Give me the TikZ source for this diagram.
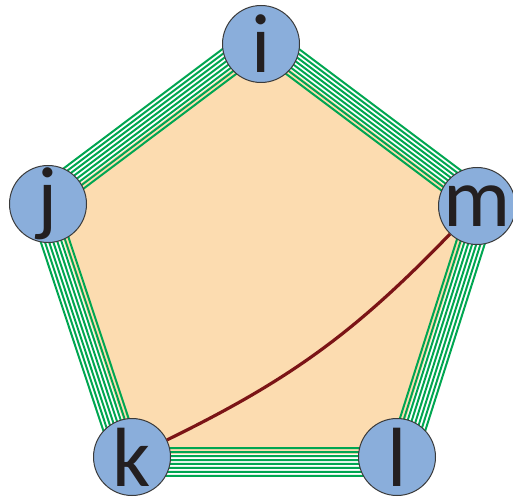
\documentclass[tikz,border=0pt]{standalone}
\usepackage{fontspec}
\setmainfont{Carlito}
\usetikzlibrary{calc}
\pgfdeclarelayer{bg}
\pgfsetlayers{bg,main}
\definecolor{nodeblue}{HTML}{8AAEDB}
\definecolor{peach}{HTML}{FCDCB0}
\definecolor{grn}{HTML}{00A651}
\definecolor{brn}{HTML}{7B1416}
\definecolor{rim}{HTML}{3A3A3A}
\definecolor{ink}{HTML}{231F20}
\tikzset{
  vtx/.style={circle, draw=rim, line width=1pt, fill=nodeblue, minimum size=77pt, inner sep=0pt},
  lbl/.style={inner sep=0pt, text=ink, font=\fontsize{84}{84}\selectfont},
  edgeline/.style={draw=grn, line width=2pt, line join=miter},
  chord/.style={draw=brn, line width=3.2pt}
}
\begin{document}
\begin{tikzpicture}[x=1pt,y=-1pt]
\useasboundingbox (0,0) rectangle (513,497);
\coordinate (c) at (263.4,273.2);
\node[vtx] (i) at (261,44) {};
\node[vtx] (j) at (48,204) {};
\node[vtx] (m) at (477,206) {};
\node[vtx] (k) at (132,457) {};
\node[vtx] (l) at (397,457) {};
\node[lbl] at (i) {i};
\node[lbl] at (j) {j};
\node[lbl] at (m) {m};
\node[lbl] at (k) {k};
\node[lbl] at (l) {l};
\begin{pgfonlayer}{bg}
  \pgfmathsetmacro\sf{1-3/184}
  \fill[peach] ($(c)!\sf!(i.center)$) -- ($(c)!\sf!(m.center)$) -- ($(c)!\sf!(l.center)$) -- ($(c)!\sf!(k.center)$) -- ($(c)!\sf!(j.center)$) -- cycle;
  \foreach \d in {-9,-5,...,19} {
    \pgfmathsetmacro\s{1+\d/184}
    \draw[edgeline] ($(c)!\s!(i.center)$) -- ($(c)!\s!(m.center)$) -- ($(c)!\s!(l.center)$) -- ($(c)!\s!(k.center)$) -- ($(c)!\s!(j.center)$) -- cycle;
  }
\end{pgfonlayer}
\draw[chord] (k) to[bend right=10] (m);
\end{tikzpicture}
\end{document}
